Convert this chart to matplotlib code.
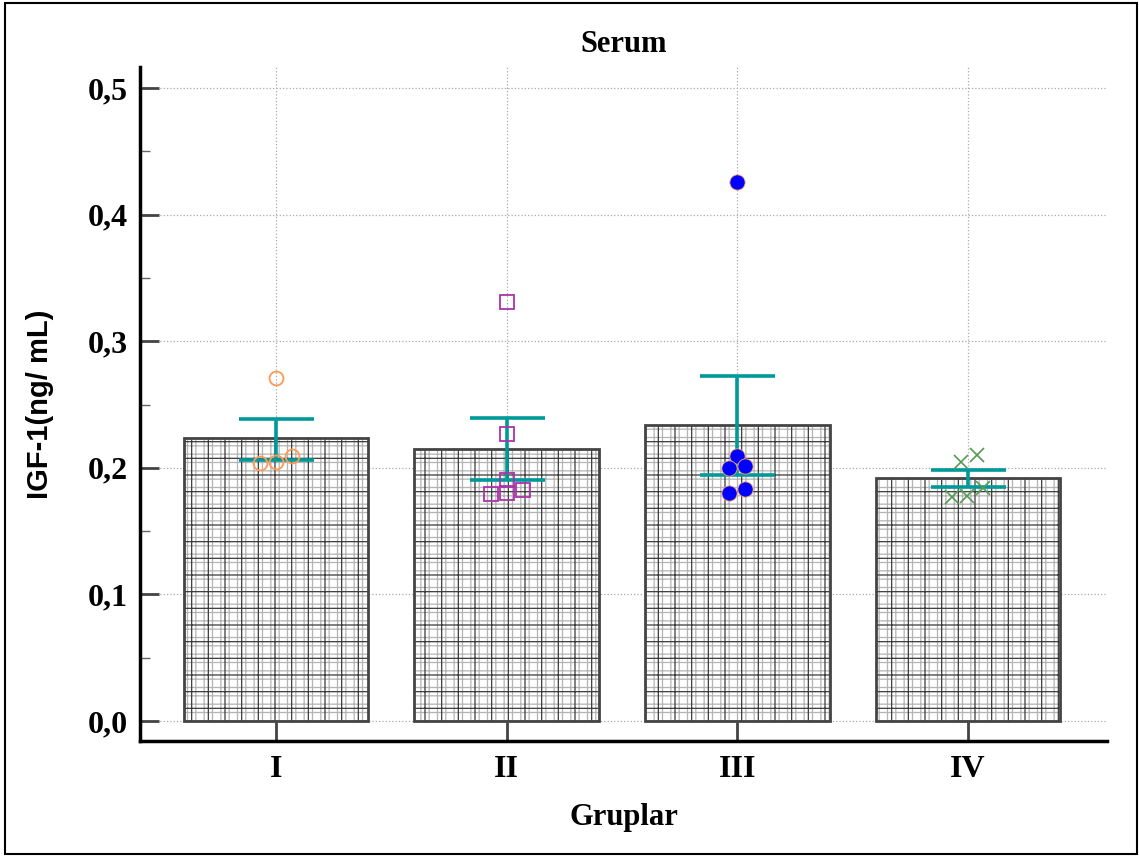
import matplotlib
matplotlib.use("Agg")
import matplotlib.pyplot as plt
from matplotlib.patches import Rectangle
from matplotlib.ticker import MultipleLocator, FuncFormatter
import numpy as np

# ---- data ----
groups = ["I", "II", "III", "IV"]
bar_means = [0.2235, 0.215, 0.234, 0.192]
err_low = [0.206, 0.190, 0.194, 0.185]
err_high = [0.2385, 0.239, 0.2725, 0.198]

pts_I = [0.2707, 0.2036, 0.2048, 0.2093]
pts_II = [0.331, 0.2265, 0.190, 0.1793, 0.1803, 0.1822]
pts_III = [0.426, 0.2093, 0.1995, 0.2017, 0.1799, 0.183]
pts_IV = [0.2048, 0.2101, 0.1843, 0.1772, 0.1777]

jit_I = [0.0, -0.07, 0.0, 0.07]
jit_II = [0.0, 0.0, 0.0, -0.07, 0.0, 0.07]
jit_III = [0.0, 0.0, -0.035, 0.035, -0.035, 0.035]
jit_IV = [-0.032, 0.038, 0.066, -0.071, -0.003]

y_ticks = [0.0, 0.1, 0.2, 0.3, 0.4, 0.5]

# ---- figure ----
fig = plt.figure(figsize=(11.39, 8.56), dpi=100)
ax = fig.add_axes([140/1139, 1-741/856, (1107-140)/1139, (741-67)/856])

serif = "Liberation Serif"
sans = "Liberation Sans"

x = np.arange(1, len(groups) + 1)
width = 0.8

# bars: fine gray grid hatch + darker coarse grid + outline
plt.rcParams['hatch.linewidth'] = 0.9
ax.bar(x, bar_means, width=width, color="white", edgecolor="#b4b4b4",
       hatch="++", linewidth=0, zorder=2)
ax.bar(x, bar_means, width=width, color="none", edgecolor="#3a3a3a",
       hatch="+", linewidth=0, zorder=2.1)
ax.bar(x, bar_means, width=width, color="none", edgecolor="#444444",
       linewidth=2.0, zorder=2.2)

# error bars
mid = [(lo + hi) / 2 for lo, hi in zip(err_low, err_high)]
yerr = [[m - lo for m, lo in zip(mid, err_low)], [hi - m for m, hi in zip(mid, err_high)]]
ax.errorbar(x, mid, yerr=yerr, fmt="none", ecolor="#009999", elinewidth=2.6,
            capsize=27, capthick=2.6, zorder=4)

# points
ax.plot(x[0] + np.array(jit_I), pts_I, "o", mfc="none", mec="#FF9955", ms=10, mew=1.3, zorder=5)
ax.plot(x[1] + np.array(jit_II), pts_II, "s", mfc="none", mec="#AA33AA", ms=10, mew=1.3, zorder=5)
ax.plot(x[2] + np.array(jit_III), pts_III, "o", mfc="#0000FF", mec="#FFAA66", ms=11, mew=0.6, zorder=5)
ax.plot(x[3] + np.array(jit_IV), pts_IV, "x", color="#559955", ms=10, mew=1.2, zorder=5)

# axes
ax.set_xlim(0.41, 4.603)
ax.set_ylim(-0.0158, 0.5166)
ax.set_xticks(x)
ax.set_xticklabels(groups, fontfamily=serif, fontweight="bold", fontsize=23)
ax.set_yticks(y_ticks)
ax.yaxis.set_major_formatter(FuncFormatter(lambda v, p: f"{v:.1f}".replace(".", ",")))
ax.yaxis.set_minor_locator(MultipleLocator(0.05))
for lab in ax.get_yticklabels():
    lab.set_fontfamily(serif)
    lab.set_fontweight("bold")
    lab.set_fontsize(23)

ax.tick_params(axis="y", which="major", direction="in", length=14, width=2, color="#444444", pad=9)
ax.tick_params(axis="y", which="minor", direction="in", length=7, width=1, color="#666666")
ax.tick_params(axis="x", which="major", direction="in", length=14, width=2, color="#444444", pad=10)

ax.spines["top"].set_visible(False)
ax.spines["right"].set_visible(False)
ax.spines["left"].set_linewidth(2.5)
ax.spines["bottom"].set_linewidth(2.5)

ax.grid(True, which="major", axis="both", linestyle=":", color="#aaaaaa", linewidth=0.9, zorder=0)
ax.set_axisbelow(True)

ax.set_title("Serum", fontfamily=serif, fontweight="bold", fontsize=22, pad=11)
ax.set_xlabel("Gruplar", fontfamily=serif, fontweight="bold", fontsize=22, labelpad=14)
ax.set_ylabel("IGF-1(ng/ mL)", fontfamily=sans, fontweight="bold", fontsize=21, labelpad=24)

# outer frame
fig.patches.append(Rectangle((0.004, 0.002), 0.994, 0.995, transform=fig.transFigure,
                             fill=False, edgecolor="black", linewidth=1.5))

fig.savefig("out.png", dpi=100)
